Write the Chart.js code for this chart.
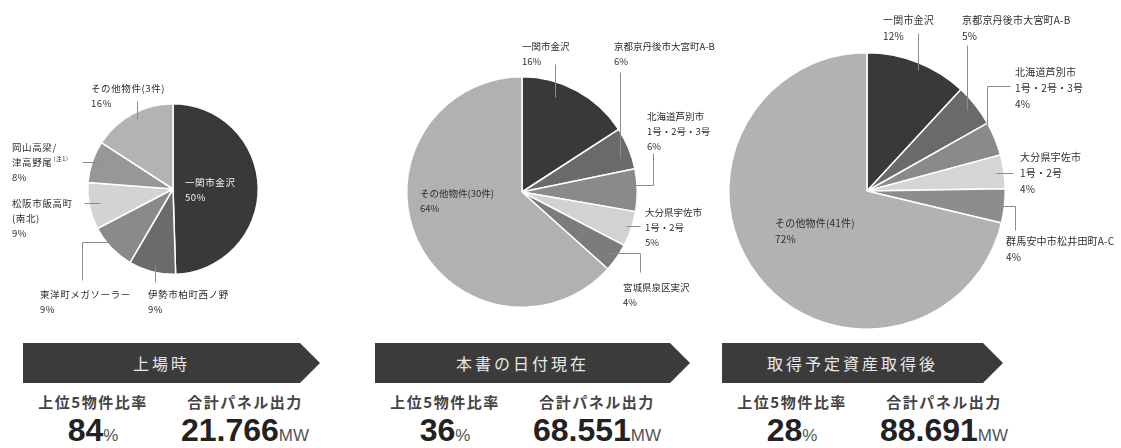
<!DOCTYPE html>
<html lang="ja">
<head>
<meta charset="utf-8">
<script src="https://cdn.jsdelivr.net/npm/chart.js@4.4.1/dist/chart.umd.min.js"></script>
<style>
  html, body { margin: 0; padding: 0; background: #fff; }
  #wrap { position: relative; width: 1121px; height: 448px; overflow: hidden; }
  #wrap canvas { position: absolute; left: 0; top: 0; }
  .banner {
    position: absolute; top: 343px; height: 40px;
    background: #3b3b3b; color: #e8e8e8;
    font: 16px "Noto Sans CJK JP", sans-serif; letter-spacing: 3px;
    line-height: 40px; text-align: center; padding-right: 20px; box-sizing: border-box;
  }
  .cap {
    position: absolute; top: 392px; width: 150px; text-align: center;
    font: bold 15px "Noto Sans CJK JP", sans-serif; color: #444; letter-spacing: 1.5px;
    line-height: 20px;
  }
  .num {
    position: absolute; top: 414px; width: 180px; text-align: center; white-space: nowrap;
    font: bold 32px "Liberation Sans", Arial, sans-serif; color: #222; line-height: 32px;
  }
  .num small { font-size: 17px; font-weight: normal; color: #555; }
</style>
</head>
<body>
<div id="wrap">
  <canvas id="pie1" width="1121" height="335"></canvas>
  <canvas id="pie2" width="1121" height="335"></canvas>
  <canvas id="pie3" width="1121" height="335"></canvas>
</div>
<script>
// 上場時
const listingNames = ['一関市金沢', '伊勢市柏町西ノ野', '東洋町メガソーラー', '松阪市飯高町\n(南北)', '岡山高梁/\n津高野尾(注1)', 'その他物件(3件)'];
const listingShare = [50, 9, 9, 9, 8, 16];
const listingGrays = ['#393939', '#6b6b6b', '#8a8a8a', '#d3d3d3', '#979797', '#b3b3b3'];

// 本書の日付現在
const currentNames = ['一関市金沢', '京都京丹後市大宮町A-B', '北海道芦別市\n1号・2号・3号', '大分県宇佐市\n1号・2号', '宮城県泉区実沢', 'その他物件(30件)'];
const currentShare = [16, 6, 6, 5, 4, 64];
const currentGrays = ['#393939', '#6a6a6a', '#8a8a8a', '#d2d2d2', '#7c7c7c', '#b1b1b1'];

// 取得予定資産取得後
const afterNames = ['一関市金沢', '京都京丹後市大宮町A-B', '北海道芦別市\n1号・2号・3号', '大分県宇佐市\n1号・2号', '群馬安中市松井田町A-C', 'その他物件(41件)'];
const afterShare = [12, 5, 4, 4, 4, 72];
const afterGrays = ['#393939', '#6a6a6a', '#8a8a8a', '#d5d5d5', '#8d8d8d', '#b2b2b2'];

// 下段の見出しと数値
const stageTitles = ['上場時', '本書の日付現在', '取得予定資産取得後'];
const top5Ratio = [84, 36, 28];
const panelOutputMW = ['21.766', '68.551', '88.691'];

const W = 1121, H = 335;

// ラベル文字と引き出し線: t=扇内の角度位置, r=半径比, path=折れ線の行き先
const labelPlugin = {
  id: 'sliceLabels',
  afterDatasetsDraw(chart, args, opts) {
    const ctx = chart.ctx;
    const meta = chart.getDatasetMeta(0);
    const names = chart.data.labels;
    const values = chart.data.datasets[0].data;
    meta.data.forEach((arc, i) => {
      const spot = opts.spots[i];
      const p = arc.getProps(['x', 'y', 'startAngle', 'endAngle', 'outerRadius'], true);
      ctx.save();
      if (spot.lead) {
        const a = p.startAngle + (p.endAngle - p.startAngle) * spot.lead.t;
        let px = Math.round(p.x + Math.cos(a) * p.outerRadius * spot.lead.r) + 0.5;
        let py = Math.round(p.y + Math.sin(a) * p.outerRadius * spot.lead.r) + 0.5;
        ctx.beginPath();
        ctx.moveTo(px, py);
        spot.lead.path.forEach(step => {
          if ('x' in step) px = step.x + 0.5; else py = step.y + 0.5;
          ctx.lineTo(px, py);
        });
        ctx.strokeStyle = '#8c8c8c';
        ctx.lineWidth = 1;
        ctx.stroke();
      }
      const lines = names[i].split('\n').concat(values[i] + '%');
      ctx.fillStyle = spot.color || '#2e2e2e';
      ctx.textBaseline = 'middle';
      ctx.letterSpacing = opts.spacing + 'px';
      lines.forEach((line, k) => {
        const ty = spot.y + k * opts.lineHeight;
        const note = line.match(/\(注\d\)/);
        ctx.font = opts.fontSize + 'px "Noto Sans CJK JP"';
        if (note) {
          const head = line.slice(0, note.index);
          ctx.fillText(head, spot.x, ty);
          const w = ctx.measureText(head).width;
          ctx.font = (opts.fontSize * 0.6) + 'px "Noto Sans CJK JP"';
          ctx.fillText(note[0], spot.x + w + 1, ty - opts.fontSize * 0.3);
        } else {
          ctx.fillText(line, spot.x, ty);
        }
      });
      ctx.restore();
    });
  }
};

function drawPie(id, names, share, grays, frame, text) {
  return new Chart(document.getElementById(id), {
    type: 'pie',
    data: {
      labels: names,
      datasets: [{ data: share, backgroundColor: grays, borderColor: '#ffffff', borderWidth: 1.5 }]
    },
    options: {
      responsive: false,
      animation: false,
      layout: {
        padding: {
          left: frame.cx - frame.r,
          right: W - frame.cx - frame.r,
          top: frame.cy - frame.r,
          bottom: H - frame.cy - frame.r
        }
      },
      plugins: {
        legend: { display: false },
        tooltip: { enabled: false },
        sliceLabels: text
      }
    },
    plugins: [labelPlugin]
  });
}

drawPie('pie1', listingNames, listingShare, listingGrays, { cx: 173, cy: 189, r: 86 }, {
  fontSize: 9.5, lineHeight: 15, spacing: 0.6,
  spots: [
    { x: 185, y: 182, color: '#f0f0f0' },
    { x: 148, y: 294, lead: { t: 0.47, r: 0.92, path: [{ y: 282 }] } },
    { x: 40, y: 294, lead: { t: 0.54, r: 0.92, path: [{ x: 82 }, { y: 280 }] } },
    { x: 12, y: 203, lead: { t: 0.52, r: 0.87, path: [{ x: 84 }] } },
    { x: 12, y: 147, lead: { t: 0.55, r: 0.92, path: [{ x: 82 }] } },
    { x: 91, y: 88, lead: { t: 0.52, r: 0.92, path: [{ y: 101 }] } }
  ]
});

drawPie('pie2', currentNames, currentShare, currentGrays, { cx: 522, cy: 192, r: 116 }, {
  fontSize: 9.5, lineHeight: 15, spacing: 0,
  spots: [
    { x: 522, y: 46, lead: { t: 0.34, r: 0.87, path: [{ y: 64 }] } },
    { x: 614, y: 46, lead: { t: 0.62, r: 0.9, path: [{ y: 72 }] } },
    { x: 647, y: 116, lead: { t: 0.36, r: 0.92, path: [{ x: 653 }, { y: 153 }] } },
    { x: 645, y: 212, lead: { t: 0.46, r: 0.95, path: [{ x: 640 }] } },
    { x: 623, y: 287, lead: { t: 0.5, r: 0.93, path: [{ x: 640 }, { y: 272 }] } },
    { x: 420, y: 193 }
  ]
});

drawPie('pie3', afterNames, afterShare, afterGrays, { cx: 867, cy: 191, r: 139 }, {
  fontSize: 10, lineHeight: 16, spacing: 0.2,
  spots: [
    { x: 883, y: 20, lead: { t: 0.53, r: 0.95, path: [{ y: 33 }] } },
    { x: 962, y: 20, lead: { t: 0.46, r: 0.93, path: [{ y: 45 }] } },
    { x: 1015, y: 72, lead: { t: 0.39, r: 0.95, path: [{ y: 86 }, { x: 1010 }] } },
    { x: 1020, y: 157, lead: { t: 0.5, r: 0.94, path: [{ x: 1013 }] } },
    { x: 1006, y: 241, lead: { t: 0.52, r: 0.95, path: [{ x: 1015 }, { y: 230 }] } },
    { x: 775, y: 223 }
  ]
});

// 下段: 矢羽根の見出しと上位5物件比率・合計パネル出力
const panelLeft = [23, 375, 722];
const bannerWidth = [297, 315, 281];
const wrap = document.getElementById('wrap');
stageTitles.forEach((title, i) => {
  const x0 = panelLeft[i];
  const bw = bannerWidth[i];
  const banner = document.createElement('div');
  banner.className = 'banner';
  banner.style.left = x0 + 'px';
  banner.style.width = bw + 'px';
  banner.style.clipPath = `polygon(0 0, ${bw - 20}px 0, ${bw}px 50%, ${bw - 20}px 100%, 0 100%)`;
  banner.textContent = title;
  wrap.appendChild(banner);

  const cols = [
    { cx: x0 + 70, cap: '上位5物件比率', val: top5Ratio[i], unit: '%' },
    { cx: x0 + 222, cap: '合計パネル出力', val: panelOutputMW[i], unit: 'MW' }
  ];
  cols.forEach(c => {
    const cap = document.createElement('div');
    cap.className = 'cap';
    cap.style.left = (c.cx - 75) + 'px';
    cap.textContent = c.cap;
    wrap.appendChild(cap);

    const num = document.createElement('div');
    num.className = 'num';
    num.style.left = (c.cx - 90) + 'px';
    num.innerHTML = c.val + '<small>' + c.unit + '</small>';
    wrap.appendChild(num);
  });
});
</script>
</body>
</html>
